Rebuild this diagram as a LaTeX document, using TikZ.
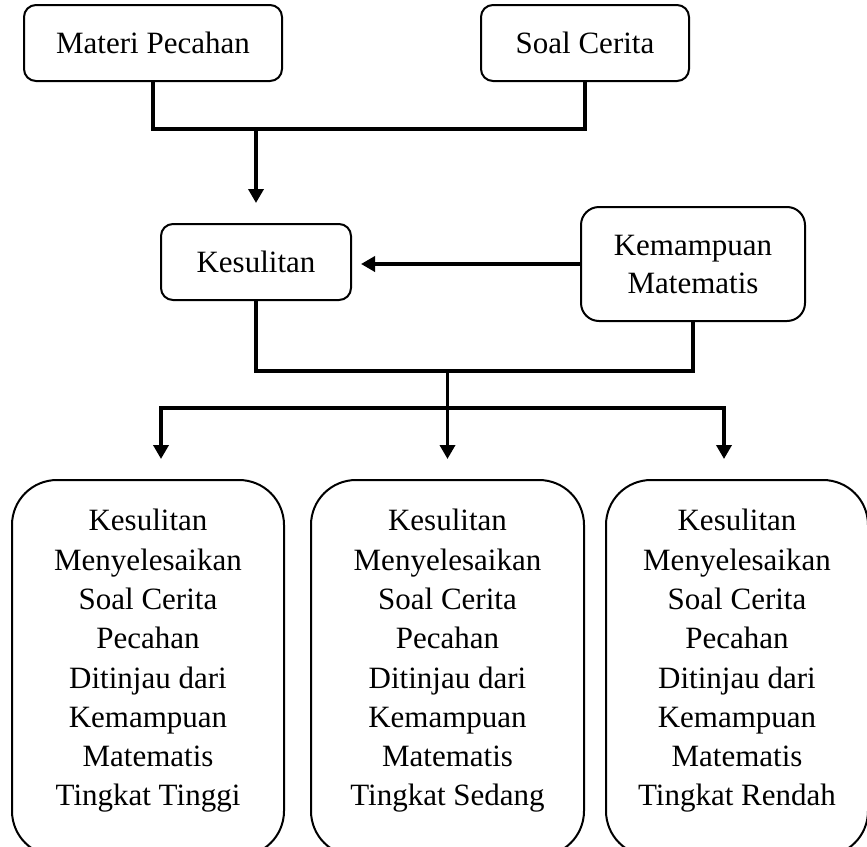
\documentclass[tikz,border=0pt]{standalone}
\usepackage{fontspec}
\setmainfont{Liberation Serif}
\usepackage{tikz}
\usetikzlibrary{arrows.meta,calc,positioning}
\tikzset{
  concept/.style n args={3}{draw, line width=2pt, rounded corners=#3, align=center,
        inner sep=0pt, minimum width=#1, minimum height=#2,
        font=\fontsize{31}{38}\selectfont},
  resbox/.style={draw, line width=2pt, rounded corners=45pt, minimum height=376pt},
  restxt/.style={align=center, inner sep=0pt, font=\fontsize{31}{39.3}\selectfont},
  link/.style={line width=3.5pt},
  flow/.style={-{Triangle[length=14pt,width=15pt]}, line width=3.5pt},
}
\begin{document}
\begin{tikzpicture}[x=1pt,y=-1pt]
  \clip (0,0) rectangle (867,846);
  % inputs
  \node[concept={258pt}{76pt}{12pt}] (mp) at (153,43) {Materi Pecahan};
  \node[concept={208pt}{76pt}{12pt}] (sc) at (585,43) {Soal Cerita};
  % middle row
  \node[concept={190pt}{76pt}{12pt}] (ks) at (256,262) {Kesulitan};
  \node[concept={224pt}{114pt}{18pt}] (km) at (693,264) {Kemampuan\\Matematis};
  % results
  \node[resbox, minimum width=272pt] (b1) at (148,668) {};
  \node[resbox, minimum width=273pt] (b2) at (447.5,668) {};
  \node[resbox, minimum width=262pt] (b3) at (737,668) {};
  \node[restxt] (t1) at ([yshift=7pt]b1.center) {Kesulitan\\Menyelesaikan\\Soal Cerita\\Pecahan\\Ditinjau dari\\Kemampuan\\Matematis\\Tingkat Tinggi};
  \node[restxt] (t2) at ([yshift=7pt]b2.center) {Kesulitan\\Menyelesaikan\\Soal Cerita\\Pecahan\\Ditinjau dari\\Kemampuan\\Matematis\\Tingkat Sedang};
  \node[restxt] (t3) at ([yshift=7pt]b3.center) {Kesulitan\\Menyelesaikan\\Soal Cerita\\Pecahan\\Ditinjau dari\\Kemampuan\\Matematis\\Tingkat Rendah};
  % connectors
  \coordinate (j1) at (257,129);
  \coordinate (j2) at (b2.north |- 0,371);
  \coordinate (j3) at (b2.north |- 0,408);
  \draw[link] (mp.south) |- (sc.south |- j1) -- (sc.south);
  \draw[flow] (ks.north |- j1) -- ++(0,74);
  \draw[flow] (km.west) -- ([xshift=9pt]ks.east |- km.west);
  \draw[link] (ks.south) |- (j2) -| (km.south);
  \draw[flow] (j2) -- ([yshift=20pt]b2.north);
  \draw[flow] (j3) -| ([xshift=13pt,yshift=20pt]b1.north);
  \draw[flow] (j3) -| ([xshift=-13pt,yshift=20pt]b3.north);
\end{tikzpicture}
\end{document}
